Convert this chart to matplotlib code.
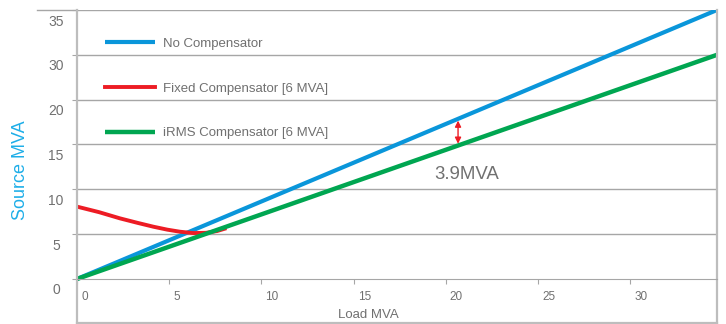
import numpy as np
import matplotlib.pyplot as plt
from matplotlib.transforms import ScaledTranslation

# ============================== data ================================ #

# load in MVA, y in grid units (one grid step = 5)
load_line = [0, 34.7]
no_comp = [0, 30.0]
irms_comp = [0, 25.0]

fixed_x = [0, 1.2, 2.33, 3.3, 4.14, 4.9, 5.58, 6.3, 7.0, 7.6, 8.0]
fixed_y = [8.07, 7.45, 6.76, 6.25, 5.83, 5.5, 5.27, 5.12, 5.15, 5.35, 5.6]

x_ticks = [0, 5, 10, 15, 20, 25, 30]
y_ticks = [0, 5, 10, 15, 20, 25, 30]
y_tick_labels = ["0", "5", "10", "15", "20", "30", "35"]

gap_at = 20.66
gap_label = "3.9MVA"

BLUE = "#0a96da"
RED = "#ed1c24"
GREEN = "#00a651"
GRID = "#a6a6a6"
FRAME = "#bdbdbd"
TEXT = "#707070"

plt.rcParams['font.family'] = ['Liberation Sans', 'DejaVu Sans']

fig = plt.figure(figsize=(7.26, 3.24), dpi=100)
ax = fig.add_axes([77 / 726, 1 / 324, 640 / 726, 313 / 324])

ax.plot(load_line, no_comp, color=BLUE, lw=3.0, label="No Compensator", solid_capstyle='butt')
ax.plot(fixed_x, fixed_y, color=RED, lw=2.8, label="Fixed Compensator [6 MVA]")
ax.plot(load_line, irms_comp, color=GREEN, lw=3.2, label="iRMS Compensator [6 MVA]", solid_capstyle='butt')

ax.set_xlim(0, 34.7)
ax.set_ylim(-4.91, 30)

# gridlines
for y in y_ticks[1:]:
    ax.axhline(y, color=GRID, lw=1.0, zorder=0)
ax.plot([-0.062, 0], [1, 1], transform=ax.transAxes, color=GRID, lw=1.0, clip_on=False)

# frame
ax.spines['top'].set_visible(False)
ax.spines['bottom'].set_position(('data', 0))
ax.spines['bottom'].set_color(GRID)
ax.spines['left'].set_color(FRAME)
ax.spines['right'].set_color(FRAME)
ax.spines['left'].set_linewidth(1.6)
ax.spines['right'].set_linewidth(1.6)
ax.axhline(-4.91, color=FRAME, lw=1.6, clip_on=False)

# ticks
ax.set_xticks(x_ticks)
ax.set_yticks(y_ticks, y_tick_labels)
ax.tick_params(axis='x', length=3.6, width=0.8, color=GRID, pad=5, labelsize=8.5, labelcolor=TEXT)
ax.tick_params(axis='y', length=3.6, width=0.8, color=GRID, pad=11.5, labelsize=10, labelcolor=TEXT)
for lab in ax.get_yticklabels():
    lab.set_horizontalalignment('center')
    lab.set_transform(lab.get_transform() + ScaledTranslation(0, -0.10, fig.dpi_scale_trans))
for lab in ax.get_xticklabels():
    lab.set_horizontalalignment('left')
    lab.set_transform(lab.get_transform() + ScaledTranslation(0.04, 0, fig.dpi_scale_trans))

ax.text(0.456, 0.025, "Load MVA", transform=ax.transAxes, ha='center', va='center',
        fontsize=9.5, color=TEXT, family=['Liberation Sans Narrow', 'Liberation Sans'])
fig.text(21 / 726, 1 - 170 / 324, "Source MVA", rotation=90, ha='center', va='center',
         fontsize=13, color="#1eaee8")

# gap arrow
top = np.interp(gap_at, load_line, no_comp)
bottom = np.interp(gap_at, load_line, irms_comp)
ax.annotate("", xy=(gap_at, top - 0.2), xytext=(gap_at, bottom + 0.2),
            arrowprops=dict(arrowstyle='<|-|>', color=RED, lw=1.0, mutation_scale=9,
                            shrinkA=0, shrinkB=0))
ax.text(19.36, 11.6, gap_label, ha='left', va='center', fontsize=13.4, color=TEXT)

ax.legend(loc='upper left', bbox_to_anchor=(0.0437, 0.912), frameon=False,
          fontsize=9.5, handlelength=3.8, handletextpad=0.6, labelspacing=2.47,
          borderpad=0, borderaxespad=0, labelcolor=TEXT)

fig.savefig("out.png", dpi=100)
